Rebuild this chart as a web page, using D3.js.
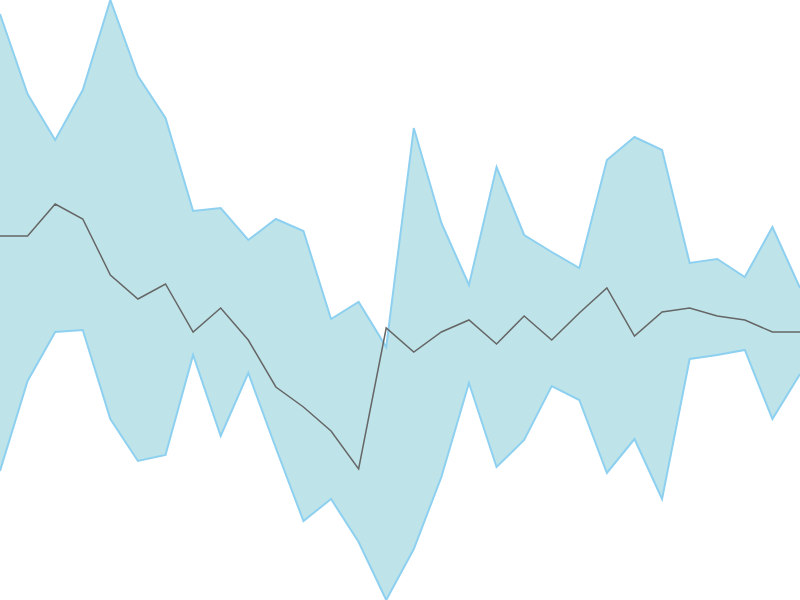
<!DOCTYPE html>
<html>
<head>
<meta charset="utf-8">
<script src="https://cdn.jsdelivr.net/npm/d3@7"></script>
<style>
  body { margin: 0; background: #fff; }
  svg { display: block; }
</style>
</head>
<body>
<svg id="chart" width="800" height="600"></svg>
<script>
// one entry per step, left to right
var steps = d3.range(30);
var upper = [58.6, 50.6, 46, 51, 60, 52.4, 48.2, 38.9, 39.2, 36, 38.1, 36.9, 28.1, 29.8, 25.3,
             47.2, 37.7, 31.5, 43.3, 36.5, 34.8, 33.2, 44, 46.3, 45, 33.7, 34.1, 32.3, 37.3, 31.2];
var lower = [12.9, 21.9, 26.8, 27, 18.1, 13.9, 14.5, 24.5, 16.4, 22.7, 15.2, 7.9, 10.1, 5.8, 0,
             5.1, 12.3, 21.7, 13.3, 16, 21.4, 20, 12.7, 16.1, 10.1, 24.1, 24.5, 25, 18.1, 22.6];
var middle = [36.4, 36.4, 39.6, 38.1, 32.5, 30.1, 31.6, 26.8, 29.2, 26, 21.3, 19.3, 16.9, 13.1, 27.2,
              24.8, 26.8, 28, 25.6, 28.4, 26, 28.7, 31.2, 26.4, 28.8, 29.2, 28.4, 28, 26.8, 26.8];

var width = 800, height = 600;
var svg = d3.select("#chart");

var x = d3.scaleLinear().domain(d3.extent(steps)).range([0, width]);
var y = d3.scaleLinear()
    .domain([d3.min(lower), d3.max(upper)])
    .range([height, 0]);

// band between lower and upper
var band = d3.area()
    .x(function (d) { return x(d); })
    .y0(function (d) { return y(lower[d]); })
    .y1(function (d) { return y(upper[d]); });

svg.append("path")
    .datum(steps)
    .attr("d", band)
    .attr("fill", "#bee4e9");

// outline of the band edges
var edge = function (arr) {
    return d3.line()
        .x(function (d) { return x(d); })
        .y(function (d) { return y(arr[d]); });
};

[upper, lower].forEach(function (arr) {
    svg.append("path")
        .datum(steps)
        .attr("d", edge(arr))
        .attr("fill", "none")
        .attr("stroke", "#8ed0f0")
        .attr("stroke-width", 2);
});

// middle line
svg.append("path")
    .datum(steps)
    .attr("d", edge(middle))
    .attr("fill", "none")
    .attr("stroke", "#666666")
    .attr("stroke-width", 1.5);
</script>
</body>
</html>
